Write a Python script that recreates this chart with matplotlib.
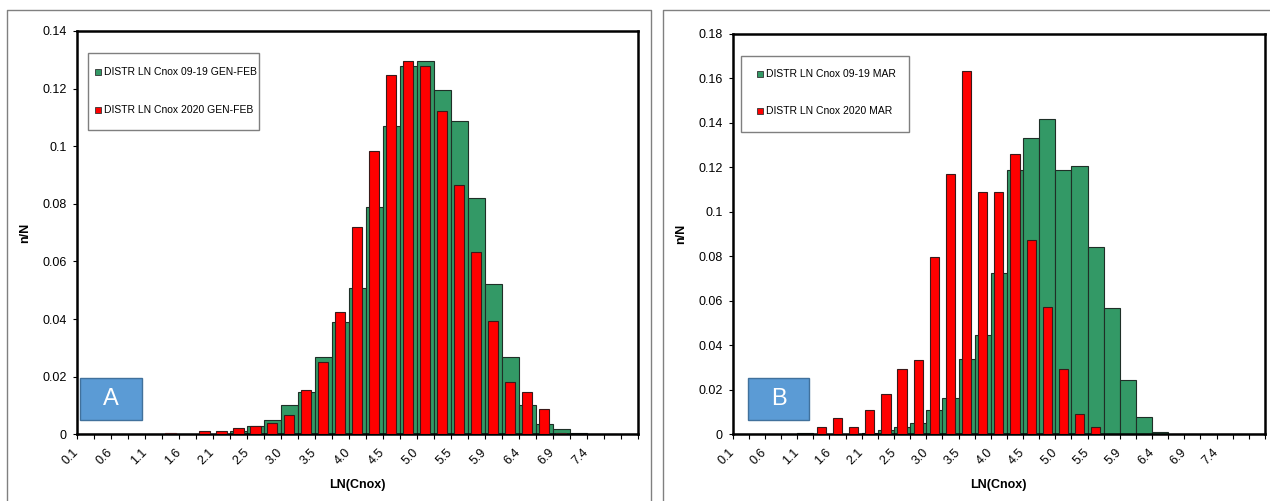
import matplotlib
matplotlib.use('Agg')
import matplotlib.pyplot as plt
from matplotlib.patches import Rectangle
from matplotlib.lines import Line2D
import numpy as np

plt.rcParams['font.family'] = ['Liberation Sans', 'DejaVu Sans']

# category axis: 33 bins of LN(Cnox), labels on every second tick
bin_labels = ['0.1', '0.6', '1.1', '1.6', '2.1', '2.5', '3.0', '3.5',
              '4.0', '4.5', '5.0', '5.5', '5.9', '6.4', '6.9', '7.4']
n_bins = 33

# panel A - GEN-FEB
a_label_old = 'DISTR LN Cnox 09-19 GEN-FEB'
a_label_new = 'DISTR LN Cnox 2020 GEN-FEB'
a_old = [0, 0, 0, 0, 0, 0, 0, 0, 0, 0.0013, 0.0030, 0.0049, 0.0103, 0.0146,
         0.0269, 0.0389, 0.0508, 0.0790, 0.1071, 0.1277, 0.1297, 0.1196,
         0.1088, 0.0822, 0.0523, 0.0267, 0.0102, 0.0035, 0.0017, 0.0005,
         0, 0, 0]
a_new = [0, 0, 0, 0, 0, 0.0006, 0, 0.0012, 0.0012, 0.0021, 0.0028, 0.0040,
         0.0068, 0.0154, 0.0251, 0.0424, 0.0720, 0.0982, 0.1247, 0.1297,
         0.1277, 0.1123, 0.0867, 0.0634, 0.0394, 0.0183, 0.0147, 0.0089,
         0.0006, 0, 0, 0, 0]

# panel B - MAR
b_label_old = 'DISTR LN Cnox 09-19 MAR'
b_label_new = 'DISTR LN Cnox 2020 MAR'
b_old = [0, 0, 0, 0, 0.0006, 0, 0, 0, 0.0006, 0.0019, 0.0033, 0.0052, 0.0109,
         0.0164, 0.0338, 0.0446, 0.0723, 0.1188, 0.1330, 0.1417, 0.1188,
         0.1204, 0.0843, 0.0567, 0.0245, 0.0078, 0.0010, 0, 0, 0, 0, 0, 0]
b_new = [0, 0, 0, 0, 0, 0.0034, 0.0075, 0.0034, 0.0109, 0.0181, 0.0293,
         0.0335, 0.0798, 0.1168, 0.1634, 0.1090, 0.1090, 0.1261, 0.0873,
         0.0571, 0.0293, 0.0090, 0.0033, 0, 0, 0, 0, 0, 0, 0, 0, 0, 0]

green = '#339966'
red = '#ff0000'

W, H = 1270, 501


def fx(px):
    return px / W


def fy(py):
    return 1 - py / H


def ytick_fmt(v, pos):
    if abs(v) < 1e-12:
        return '0'
    return ('%.2f' % v).rstrip('0')


fig = plt.figure(figsize=(12.7, 5.01), dpi=100)

# grey frames around the two pasted charts
fig.add_artist(Line2D([fx(7), fx(7), fx(651), fx(651)], [0, fy(10), fy(10), 0],
                      color='#808080', lw=1))
fig.add_artist(Line2D([fx(663), fx(663), 1], [0, fy(10), fy(10)],
                      color='#808080', lw=1))


def draw_panel(px_box, ymax, old, new, lab_old, lab_new, red_w, leg_box, leg_mx, leg_rows,
               letter_box, letter):
    x0, y0, x1, y1 = px_box
    ax = fig.add_axes([fx(x0), fy(y1), fx(x1) - fx(x0), fy(y0) - fy(y1)])
    x = np.arange(n_bins)
    ax.bar(x, old, width=1.0, align='edge', color=green, edgecolor='#1f2f27',
           linewidth=0.8, zorder=2)
    ax.bar(x + 0.5, new, width=red_w, color=red, edgecolor='#3a1a1a',
           linewidth=0.8, zorder=3)

    ax.set_xlim(0, n_bins)
    ax.set_ylim(0, ymax)
    ticks = np.arange(n_bins + 1)
    labels = [''] * len(ticks)
    for i, lab in enumerate(bin_labels):
        labels[2 * i] = lab
    ax.set_xticks(ticks)
    ax.set_xticklabels(labels, rotation=45, ha='right', va='center',
                       rotation_mode='anchor')
    ax.set_yticks(np.arange(0, ymax + 1e-9, 0.02))
    ax.yaxis.set_major_formatter(plt.FuncFormatter(ytick_fmt))
    ax.tick_params(axis='x', length=3.6, width=0.8, pad=8, labelsize=9)
    ax.tick_params(axis='y', length=3, width=0.8, pad=4.3, labelsize=9)
    for s in ax.spines.values():
        s.set_linewidth(1.8)
        s.set_color('black')

    ax.set_xlabel('LN(Cnox)', fontsize=9, fontweight='bold')
    ax.xaxis.set_label_coords(0.5, -(485 - y1) / (y1 - y0))
    ax.xaxis.label.set_va('center')
    ax.set_ylabel('n/N', fontsize=9, fontweight='bold')
    ax.yaxis.set_label_coords(-(x0 - (x0 - 52)) / (x1 - x0), 0.5)
    ax.yaxis.label.set_va('center')

    # legend box
    lx0, ly0, lx1, ly1 = leg_box
    fig.add_artist(Rectangle((fx(lx0), fy(ly1)), fx(lx1) - fx(lx0), fy(ly0) - fy(ly1),
                             transform=fig.transFigure, facecolor='white',
                             edgecolor='#7f7f7f', lw=1, zorder=5))
    for py, col, lab in zip(leg_rows, [green, red], [lab_old, lab_new]):
        fig.add_artist(Rectangle((fx(leg_mx - 3), fy(py + 3)), fx(6), 6 / H,
                                 transform=fig.transFigure, facecolor=col,
                                 edgecolor='#333333', lw=0.6, zorder=6))
        fig.text(fx(leg_mx + 6), fy(py), lab, fontsize=7.5, va='center',
                 ha='left', zorder=6)

    # letter tag
    bx0, by0, bx1, by1 = letter_box
    fig.add_artist(Rectangle((fx(bx0), fy(by1)), fx(bx1) - fx(bx0), fy(by0) - fy(by1),
                             transform=fig.transFigure, facecolor='#5b9bd5',
                             edgecolor='#41719c', lw=1, zorder=5))
    fig.text(fx((bx0 + bx1) / 2), fy((by0 + by1) / 2), letter, color='white',
             fontsize=17, ha='center', va='center', zorder=6)
    return ax


draw_panel((77, 31, 637.7, 434.3), 0.14, a_old, a_new, a_label_old, a_label_new, 0.6,
           (88, 53, 259, 130), 97.5, (72, 110), (80, 377.7, 141.7, 420), 'A')
draw_panel((732.7, 33.7, 1265, 434.3), 0.18, b_old, b_new, b_label_old, b_label_new, 0.57,
           (740.7, 56, 909.3, 132), 760, (74, 111), (748.3, 377.7, 809.3, 420), 'B')

fig.savefig('out.png', dpi=100)
